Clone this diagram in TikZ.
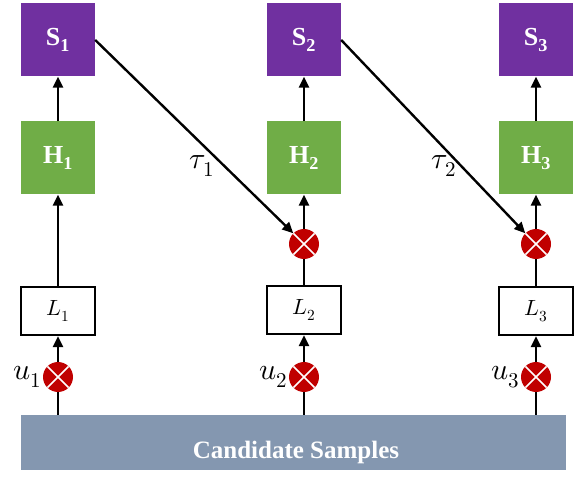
\documentclass[tikz,border=0pt]{standalone}
\usepackage{fontspec}
\usepackage{unicode-math}
\setmainfont{Liberation Serif}
\setmathfont{Latin Modern Math}
\usetikzlibrary{arrows.meta}

\definecolor{spurple}{HTML}{7030A0}
\definecolor{hgreen}{HTML}{70AD47}
\definecolor{mred}{HTML}{C00000}
\definecolor{cblue}{HTML}{8497B0}

\tikzset{
  sbox/.style={fill=spurple, text=white, minimum width=74pt, minimum height=73pt,
    inner sep=0pt, font=\fontsize{26}{28}\selectfont\bfseries},
  hbox/.style={sbox, fill=hgreen},
  lbox/.style={draw, line width=2.2pt, fill=white, minimum width=74pt, minimum height=48pt,
    inner sep=0pt, font=\fontsize{22}{24}\selectfont},
  mult/.style={circle, fill=mred, minimum size=30pt, inner sep=0pt,
    path picture={
      \draw[white, line width=1.6pt]
        (path picture bounding box.north west) -- (path picture bounding box.south east)
        (path picture bounding box.north east) -- (path picture bounding box.south west);
    }},
  lab/.style={inner sep=1pt, font=\fontsize{30}{32}\selectfont},
  flow/.style={line width=2.4pt, -{Triangle[length=11pt,width=10pt]}},
  plain/.style={line width=2.4pt}
}

\begin{document}
\begin{tikzpicture}[x=1pt, y=-1pt]
  \useasboundingbox (0,0) rectangle (574,489);

  % bottom bar
  \node (cand) [fill=cblue, minimum width=545pt, minimum height=55pt, inner sep=0pt] at (293.5,442.5) {};
  \node (ctext) [text=white, font=\fontsize{25}{27}\selectfont\bfseries] at (296,452) {Candidate Samples};

  % top row
  \node (s1) [sbox] at (58,40) {S\textsubscript{1}};
  \node (s2) [sbox] at (304,40) {S\textsubscript{2}};
  \node (s3) [sbox] at (536,40) {S\textsubscript{3}};

  \node (h1) [hbox] at (58,158) {H\textsubscript{1}};
  \node (h2) [hbox] at (304,158) {H\textsubscript{2}};
  \node (h3) [hbox] at (536,158) {H\textsubscript{3}};

  % gates
  \node (m2) [mult] at (304,244) {};
  \node (m3) [mult] at (536,244) {};

  \node (l1) [lbox] at (58,311) {$L_1$};
  \node (l2) [lbox] at (304,310) {$L_2$};
  \node (l3) [lbox] at (536,311) {$L_3$};

  \node (u1) [mult] at (58,377) {};
  \node (u2) [mult] at (304,377) {};
  \node (u3) [mult] at (536,377) {};

  \node (ul1) [lab, anchor=east] at (u1.west) {$u_1$};
  \node (ul2) [lab, anchor=east] at (u2.west) {$u_2$};
  \node (ul3) [lab, anchor=east] at (u3.west) {$u_3$};

  \node (t1) [lab] at (202,166) {$\tau_1$};
  \node (t2) [lab] at (444,166) {$\tau_2$};

  % connectors
  \foreach \i in {1,2,3} {
    \draw[plain] (cand.north -| u\i) -- (u\i);
    \draw[flow] (u\i) -- (u\i |- l\i.south);
    \draw[flow] (h\i) -- (s\i);
  }
  \draw[flow] (l1) -- (h1);
  \foreach \i in {2,3} {
    \draw[plain] (l\i) -- (m\i);
    \draw[flow] (m\i) -- (h\i);
  }
  \draw[flow] (s1.east) -- (m2.north west);
  \draw[flow] (s2.east) -- (m3.north west);
\end{tikzpicture}
\end{document}
